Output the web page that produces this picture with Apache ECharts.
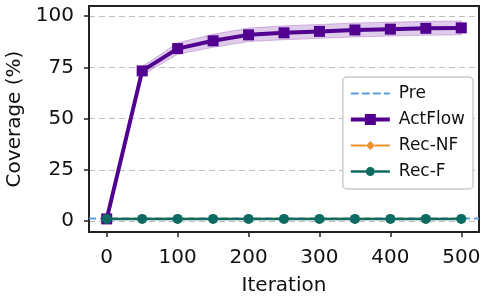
<!DOCTYPE html>
<html><head><meta charset="utf-8">
<script src="https://cdn.jsdelivr.net/npm/echarts@6/dist/echarts.min.js"></script>
<style>html,body{margin:0;padding:0;background:#fff}#c{width:487px;height:301px}</style>
</head><body><div id="c"></div>
<script>
const iterations = [0, 50, 100, 150, 200, 250, 300, 350, 400, 450, 500];
const actflow = [1, 73.3, 84.2, 88.0, 90.9, 91.9, 92.6, 93.3, 93.7, 94.1, 94.3];
const actflowLow = [1, 71.2, 81.4, 84.8, 87.6, 88.5, 89.2, 89.9, 90.3, 90.7, 90.9];
const actflowHigh = [1, 75.4, 87.0, 91.2, 94.2, 95.3, 96.0, 96.7, 97.1, 97.5, 97.7];
const recNF = [1, 1, 1, 1, 1, 1, 1, 1, 1, 1, 1];
const recF = [1, 1, 1, 1, 1, 1, 1, 1, 1, 1, 1];
const preValue = 1.2;
const preX = [-25, 525];
const xTicks = [0, 100, 200, 300, 400, 500];
const yTicks = [0, 25, 50, 75, 100];

const pairs = (xs, ys) => xs.map((x, i) => [x, ys[i]]);
const font = 'DejaVu Sans';

// legend icons: line + marker glyphs (39 x 14 box)
const iconPre = 'path://M0 6L8 6L8 8.2L0 8.2Z M11 6L19 6L19 8.2L11 8.2Z M22 6L30 6L30 8.2L22 8.2Z M33 6L39 6L39 8.2L33 8.2Z';
const iconAct = 'path://M0 5L14 5L14 9L0 9Z M25 5L39 5L39 9L25 9Z M14 1.5L25 1.5L25 12.5L14 12.5Z';
const iconNF = 'path://M0 5.9L15 5.9L15 8.1L0 8.1Z M24 5.9L39 5.9L39 8.1L24 8.1Z M19.5 2.5L24 7L19.5 11.5L15 7Z';
const iconF = 'path://M0 5.75L15 5.75L15 8.25L0 8.25Z M24 5.75L39 5.75L39 8.25L24 8.25Z M15 7A4.5 4.5 0 1 1 24 7A4.5 4.5 0 1 1 15 7Z';

const chart = echarts.init(document.getElementById('c'), null, {renderer: 'canvas'});
chart.setOption({
  animation: false,
  textStyle: {fontFamily: font},
  grid: {left: 89, right: 8, top: 6, bottom: 69, containLabel: false, outerBoundsMode: 'none',
         show: true, borderColor: '#222', borderWidth: 2, backgroundColor: 'transparent'},
  xAxis: {
    type: 'value', min: -25, max: 525,
    name: 'Iteration', nameLocation: 'middle', nameGap: 44,
    nameTextStyle: {fontSize: 20, color: '#111', fontFamily: font},
    axisLine: {show: true, onZero: false, lineStyle: {color: '#222', width: 2}},
    axisTick: {show: true, inside: false, length: 5, lineStyle: {color: '#222', width: 1.5}, customValues: xTicks},
    axisLabel: {fontSize: 20, color: '#111', margin: 16, fontFamily: font, customValues: xTicks},
    splitLine: {show: false}
  },
  yAxis: {
    type: 'value', min: -5.4, max: 105,
    name: 'Coverage (%)', nameLocation: 'middle', nameGap: 63, nameRotate: 90,
    nameTextStyle: {fontSize: 20, color: '#111', fontFamily: font},
    axisLine: {show: true, onZero: false, lineStyle: {color: '#222', width: 2}},
    axisTick: {show: true, inside: false, length: 5, lineStyle: {color: '#222', width: 1.5}, customValues: yTicks},
    axisLabel: {fontSize: 20, color: '#111', margin: 15, fontFamily: font, customValues: yTicks},
    splitLine: {show: false}
  },
  legend: {
    right: 14, top: 77, orient: 'vertical', z: 20,
    data: [
      {name: 'Pre', icon: iconPre},
      {name: 'ActFlow', icon: iconAct},
      {name: 'Rec-NF', icon: iconNF},
      {name: 'Rec-F', icon: iconF}
    ],
    symbolKeepAspect: true,
    backgroundColor: '#fff', borderColor: '#ccc', borderWidth: 1.5, borderRadius: 4,
    padding: [8, 8, 9, 8], itemGap: 9, itemWidth: 39, itemHeight: 14,
    textStyle: {fontSize: 17, color: '#111', fontFamily: font, padding: [0, 0, 0, 4]}
  },
  series: [
    {
      name: 'band', type: 'custom', silent: true, z: 1,
      data: pairs(iterations, actflowLow),
      encode: {x: 0, y: 1},
      renderItem: function (params, api) {
        if (params.dataIndex !== 0) return null;
        const upper = iterations.map((x, i) => api.coord([x, actflowHigh[i]]));
        const lower = iterations.map((x, i) => api.coord([x, actflowLow[i]])).reverse();
        return {
          type: 'polygon',
          shape: {points: upper.concat(lower)},
          style: {fill: 'rgba(140,70,180,0.28)', stroke: 'rgba(130,60,170,0.3)', lineWidth: 1}
        };
      },
      markLine: {
        silent: true, symbol: 'none', label: {show: false}, z: 0,
        lineStyle: {color: '#bdbdbd', type: [6, 4], width: 1.2},
        data: yTicks.map(v => ({yAxis: v}))
      }
    },
    {
      name: 'Pre', type: 'line', data: pairs(preX, [preValue, preValue]),
      symbol: 'none', lineStyle: {color: '#5b9ee0', width: 2.2, type: [7, 4]}, itemStyle: {color: '#5b9ee0'}, z: 2
    },
    {
      name: 'ActFlow', type: 'line', data: pairs(iterations, actflow),
      symbol: 'rect', symbolSize: 11, lineStyle: {color: '#520090', width: 4}, itemStyle: {color: '#520090'}, z: 3
    },
    {
      name: 'Rec-NF', type: 'line', data: pairs(iterations, recNF),
      symbol: 'diamond', symbolSize: 10, lineStyle: {color: '#f0922e', width: 2.2}, itemStyle: {color: '#f0922e'}, z: 4
    },
    {
      name: 'Rec-F', type: 'line', data: pairs(iterations, recF),
      symbol: 'circle', symbolSize: 10, lineStyle: {color: '#0e6b61', width: 2.5}, itemStyle: {color: '#0e6b61'}, z: 5
    }
  ]
});
</script></body></html>
